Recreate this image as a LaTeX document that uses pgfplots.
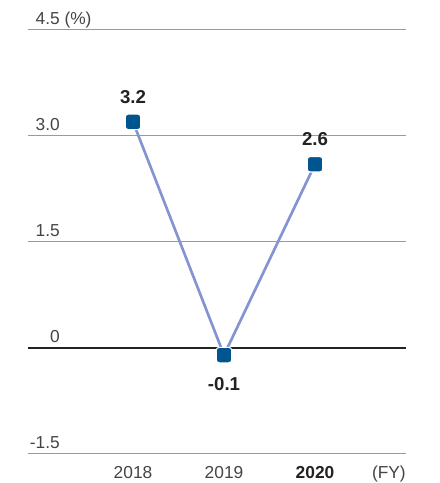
\documentclass[border=0pt]{standalone}
\usepackage{fontspec}
\setmainfont{Liberation Sans}
\usepackage{pgfplots}
\pgfplotsset{compat=1.18}
\definecolor{gridgray}{HTML}{9A9A9A}
\definecolor{linecol}{HTML}{8494D2}
\definecolor{markcol}{HTML}{00558F}
\definecolor{txt}{HTML}{444444}
\definecolor{valtxt}{HTML}{222222}
\pgfdeclareplotmark{rsq}{%
  \pgfpathmoveto{\pgfpoint{-\pgfplotmarksize+2.2pt}{-\pgfplotmarksize}}%
  \pgfpathlineto{\pgfpoint{\pgfplotmarksize-2.2pt}{-\pgfplotmarksize}}%
  \pgfpathcurveto{\pgfpoint{\pgfplotmarksize-1pt}{-\pgfplotmarksize}}{\pgfpoint{\pgfplotmarksize}{-\pgfplotmarksize+1pt}}{\pgfpoint{\pgfplotmarksize}{-\pgfplotmarksize+2.2pt}}%
  \pgfpathlineto{\pgfpoint{\pgfplotmarksize}{\pgfplotmarksize-2.2pt}}%
  \pgfpathcurveto{\pgfpoint{\pgfplotmarksize}{\pgfplotmarksize-1pt}}{\pgfpoint{\pgfplotmarksize-1pt}{\pgfplotmarksize}}{\pgfpoint{\pgfplotmarksize-2.2pt}{\pgfplotmarksize}}%
  \pgfpathlineto{\pgfpoint{-\pgfplotmarksize+2.2pt}{\pgfplotmarksize}}%
  \pgfpathcurveto{\pgfpoint{-\pgfplotmarksize+1pt}{\pgfplotmarksize}}{\pgfpoint{-\pgfplotmarksize}{\pgfplotmarksize-1pt}}{\pgfpoint{-\pgfplotmarksize}{\pgfplotmarksize-2.2pt}}%
  \pgfpathlineto{\pgfpoint{-\pgfplotmarksize}{-\pgfplotmarksize+2.2pt}}%
  \pgfpathcurveto{\pgfpoint{-\pgfplotmarksize}{-\pgfplotmarksize+1pt}}{\pgfpoint{-\pgfplotmarksize+1pt}{-\pgfplotmarksize}}{\pgfpoint{-\pgfplotmarksize+2.2pt}{-\pgfplotmarksize}}%
  \pgfpathclose
  \pgfusepathqfillstroke
}
\begin{document}
\begin{tikzpicture}
\begin{axis}[
  scale only axis, width=283.5pt, height=318pt,
  xmin=-1.154, xmax=3.0, ymin=-1.5, ymax=4.5,
  clip=false,
  axis line style={draw=none}, tick style={draw=none},
  xtick={0,1,2}, xticklabels={2018,2019,\textcolor{valtxt}{\textbf{2020}}},
  ytick={-1.5,0,1.5,3,4.5}, yticklabels={-1.5,0,1.5,3.0,4.5\rlap{ (\%)}},
  ymajorgrids, major grid style={gridgray, line width=0.75pt},
  extra y ticks={0}, extra y tick labels={},
  extra y tick style={ymajorgrids, major grid style={valtxt, line width=1.8pt}},
  ticklabel style={font=\fontsize{13}{15}\selectfont, text=txt},
  yticklabel style={anchor=base east, inner sep=0pt, xshift=24pt, yshift=3.75pt},
  xticklabel style={anchor=base, inner sep=0pt, yshift=-18.75pt},
  lbl/.style={draw=none, mark=none, point meta=explicit symbolic,
    nodes near coords={\textbf{\pgfplotspointmeta}},
    every node near coord/.append style={inner sep=0pt, font=\fontsize{14}{16}\selectfont, text=valtxt}},
]
\addplot[linecol, line width=2pt, mark=rsq, mark size=5.8pt,
  mark options={fill=markcol, draw=white, line width=0.8pt, solid}]
  coordinates {(0,3.2) (1,-0.1) (2,2.6)};
\addplot[lbl, every node near coord/.append style={anchor=base, yshift=14pt}]
  coordinates {(0,3.2) [3.2] (2,2.6) [2.6]};
\addplot[lbl, every node near coord/.append style={anchor=north, yshift=-16.5pt}]
  coordinates {(1,-0.1) [-0.1]};
\node[anchor=base east, inner sep=0pt, yshift=-18.75pt, font=\fontsize{13}{15}\selectfont, text=txt] at (rel axis cs:1,0) {(FY)};
\path (rel axis cs:0,0) ++(-21pt,-21.75pt);
\path (rel axis cs:1,1) ++(25.5pt,22.5pt);
\end{axis}
\end{tikzpicture}
\end{document}
